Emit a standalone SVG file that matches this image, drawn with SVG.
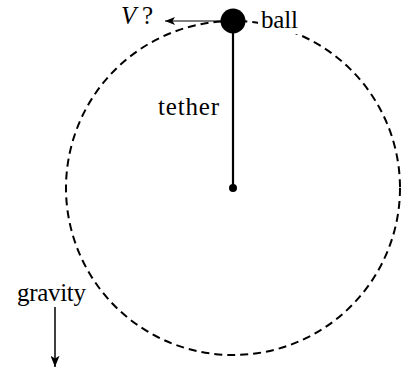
<svg xmlns="http://www.w3.org/2000/svg" width="405" height="368" viewBox="0 0 405 368">
<style>
text{font-family:"Liberation Serif","Times New Roman",serif;font-size:25px;fill:#000}
.conn{stroke:#000;fill:none}
</style>
<defs>
<marker id="ah" viewBox="0 0 10 8" refX="10" refY="4" markerWidth="10" markerHeight="8" markerUnits="userSpaceOnUse" orient="auto">
<path d="M0,0 L10,4 L0,8 L2.5,4 Z" fill="#000"/>
</marker>
<marker id="ah2" viewBox="0 0 10 8" refX="10" refY="4" markerWidth="14" markerHeight="9" markerUnits="userSpaceOnUse" orient="auto">
<path d="M0,0 L10,4 L0,8 L2.5,4 Z" fill="#000"/>
</marker>
</defs>
<rect width="405" height="368" fill="#fff"/>
<g id="orbit">
<circle cx="233" cy="188" r="167" fill="none" stroke="#000" stroke-width="2" stroke-dasharray="8,5"/>
</g>
<g id="connectors">
<line class="conn" x1="233" y1="21" x2="233" y2="188" stroke-width="2.2"/>
<line class="conn" x1="221" y1="21" x2="165" y2="21" stroke-width="1.2" marker-end="url(#ah)"/>
<line class="conn" x1="55" y1="307" x2="55" y2="367" stroke-width="1.5" marker-end="url(#ah2)"/>
</g>
<g id="ball">
<circle cx="233" cy="21" r="12.5" fill="#000"/>
<rect x="258" y="8" width="43" height="26" fill="#fff"/>
<text x="261" y="28" textLength="37" lengthAdjust="spacing">ball</text>
</g>
<g id="center">
<circle cx="233" cy="188" r="4" fill="#000"/>
</g>
<g id="tether">
<text x="158" y="115" textLength="61" lengthAdjust="spacing">tether</text>
</g>
<g id="velocity">
<text x="121" y="24"><tspan font-style="italic">V</tspan><tspan x="142">?</tspan></text>
</g>
<g id="gravity">
<text x="17" y="301" textLength="69" lengthAdjust="spacing">gravity</text>
</g>
</svg>
